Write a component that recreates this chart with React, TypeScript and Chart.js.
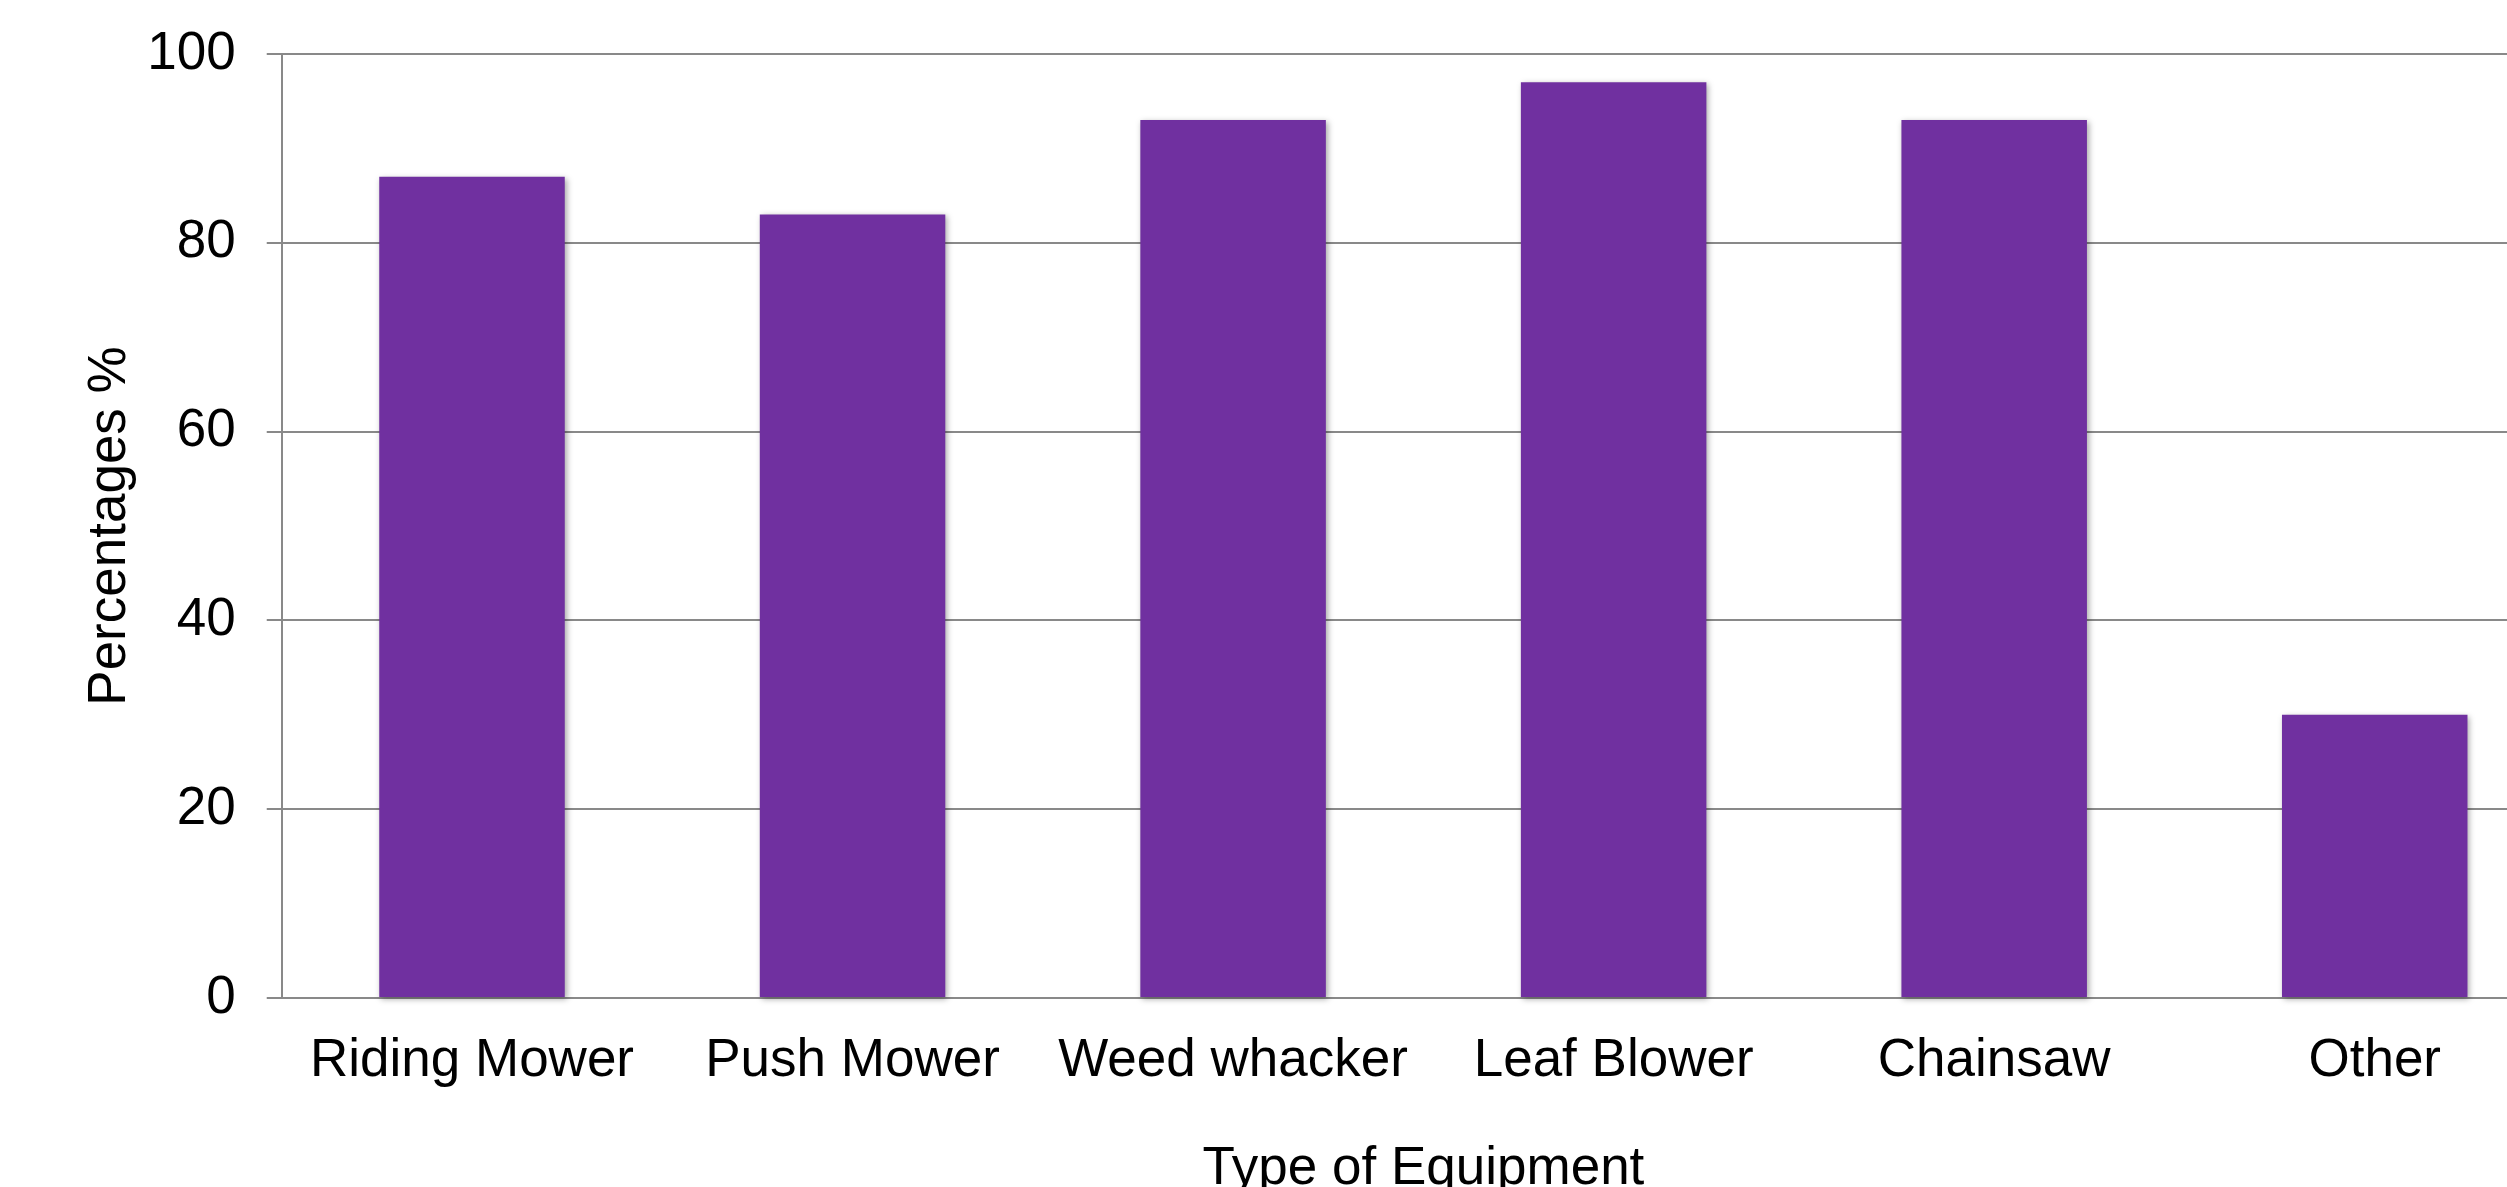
import { useEffect, useRef } from "react";
import { Chart, registerables } from "chart.js";

Chart.register(...registerables);

// Survey results: share of respondents using each type of equipment
const categories = [
  "Riding Mower",
  "Push Mower",
  "Weed whacker",
  "Leaf Blower",
  "Chainsaw",
  "Other",
];
const percentages = [87, 83, 93, 97, 93, 30];
const yMin = 0;
const yMax = 100;
const yStep = 20;
const xAxisTitle = "Type of Equipment";
const yAxisTitle = "Percentages %";

const FONT = "'Liberation Sans', Arial, Helvetica, sans-serif";
const BAR_COLOR = "#7030A0";
const LINE_COLOR = "#898989";

// Soft drop shadow behind the bars
const barShadow = {
  id: "barShadow",
  beforeDatasetsDraw(chart: any) {
    const ctx = chart.ctx;
    ctx.save();
    ctx.shadowColor = "rgba(0,0,0,0.35)";
    ctx.shadowBlur = 6;
    ctx.shadowOffsetX = 2;
    ctx.shadowOffsetY = 2;
  },
  afterDatasetsDraw(chart: any) {
    chart.ctx.restore();
  },
};

export default function App() {
  const canvasRef = useRef<HTMLCanvasElement | null>(null);

  useEffect(() => {
    if (!canvasRef.current) return;
    const chart = new Chart(canvasRef.current, {
      type: "bar",
      data: {
        labels: categories,
        datasets: [
          {
            label: yAxisTitle,
            data: percentages,
            backgroundColor: BAR_COLOR,
            borderWidth: 0,
            barPercentage: 0.4875,
            categoryPercentage: 1,
            clip: false as any,
          },
        ],
      },
      plugins: [barShadow],
      options: {
        animation: false,
        responsive: false,
        devicePixelRatio: 1,
        layout: { padding: { top: 54, right: 35, bottom: 0, left: 0 } },
        plugins: {
          legend: { display: false },
          tooltip: { enabled: false },
          title: { display: false },
        },
        scales: {
          x: {
            grid: { display: false, drawTicks: false },
            border: { display: true, color: LINE_COLOR, width: 2 },
            ticks: {
              color: "#000",
              padding: 31.7,
              maxRotation: 0,
              autoSkip: false,
              font: { family: FONT, size: 53, lineHeight: 1.2 },
            },
            title: {
              display: true,
              text: xAxisTitle,
              color: "#000",
              font: { family: FONT, size: 53, lineHeight: 1 },
              padding: { top: 18, bottom: 0 },
            },
          },
          y: {
            min: yMin,
            max: yMax,
            grid: {
              color: LINE_COLOR,
              lineWidth: 2,
              drawTicks: true,
              tickLength: 15,
            },
            border: { display: true, color: LINE_COLOR, width: 2 },
            ticks: {
              stepSize: yStep,
              color: "#000",
              padding: 31,
              font: { family: FONT, size: 53, lineHeight: 0.85 },
            },
            title: {
              display: true,
              text: yAxisTitle,
              color: "#000",
              font: { family: FONT, size: 53, lineHeight: 1 },
              padding: { top: 84, bottom: -20.7 },
            },
          },
        },
      },
    });
    return () => chart.destroy();
  }, []);

  return (
    <div
      style={{
        position: "fixed",
        left: 0,
        top: 0,
        width: "2507px",
        height: "1187px",
        overflow: "hidden",
        background: "#fff",
      }}
    >
      <canvas
        ref={canvasRef}
        width={2600}
        height={1196}
        style={{ display: "block", width: "2600px", height: "1196px" }}
      />
    </div>
  );
}
